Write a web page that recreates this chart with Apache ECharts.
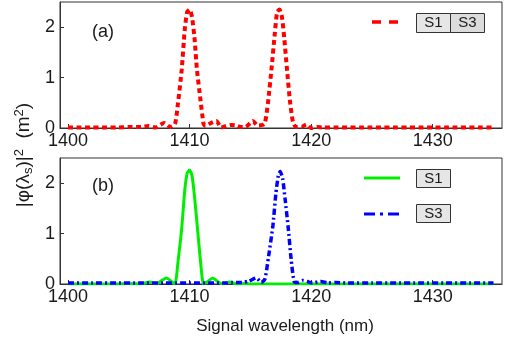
<!DOCTYPE html>
<html><head><meta charset="utf-8">
<script src="https://cdn.jsdelivr.net/npm/echarts@6/dist/echarts.min.js"></script>
<style>html,body{margin:0;padding:0;background:#fff}#c{width:513px;height:337px}</style>
</head><body><div id="c"></div>
<script>
// Panel (a): S1+S3 combined (red dashed)
const wlA = [1400,1401,1402,1403,1404,1405,1406,1406.6,1407.2,1407.9,1408.4,1408.8,1409.05,1409.35,1409.6,1409.8,1410,1410.2,1410.4,1410.6,1410.9,1411.15,1411.3,1411.6,1412.2,1412.6,1413,1413.4,1413.8,1414.2,1414.6,1415.2,1415.6,1416.0,1416.2,1416.45,1416.75,1417,1417.2,1417.4,1417.6,1417.8,1418,1418.25,1418.5,1418.75,1419.2,1419.6,1420,1420.5,1421,1422,1423,1424,1425,1426,1427,1428,1429,1430,1431,1432,1433,1434,1435];
const valA = [0.01,0.01,0.01,0.01,0.01,0.02,0.02,0.04,0.01,0.10,0.02,0.08,0.50,1.15,1.95,2.30,2.35,2.20,1.80,1.17,0.55,0.08,0.04,0.08,0.14,0.01,0.04,0.06,0.05,0.02,0.02,0.14,0.05,0.06,0.10,0.50,1.20,1.85,2.30,2.35,2.20,1.75,1.20,0.55,0.12,0.02,0.02,0.07,0.00,0.02,0.01,0.01,0.01,0.01,0.01,0.01,0.01,0.01,0.01,0.01,0.01,0.01,0.01,0.01,0.01];
// Panel (b): S1 (green solid)
const wlS1 = [1400,1401,1402,1403,1404,1405,1406,1406.7,1407.3,1407.7,1408.1,1408.5,1408.8,1409.05,1409.35,1409.6,1409.8,1410,1410.2,1410.4,1410.65,1410.9,1411.15,1411.5,1411.9,1412.3,1412.7,1413.3,1413.9,1414.5,1415,1416,1418,1420,1425,1430,1435];
const valS1 = [0,0,0,0,0,0.01,0,0.04,0,0.07,0.12,0.05,0,0.45,1.10,1.85,2.20,2.26,2.15,1.75,1.10,0.45,0,0.05,0.12,0.05,0,0.04,0,0.01,0,0,0,0,0,0,0];
// Panel (b): S3 (blue dash-dot)
const wlS3 = [1400,1402,1404,1406,1408,1410,1412,1413,1413.5,1414.3,1414.9,1415.5,1415.9,1416.2,1416.5,1416.85,1417.1,1417.3,1417.45,1417.65,1417.85,1418.1,1418.35,1418.6,1418.9,1419.3,1419.7,1420.1,1420.8,1421.4,1422,1423,1425,1427,1429,1431,1433,1435];
const valS3 = [0.02,0.02,0.02,0.02,0.02,0.02,0.02,0.02,0.03,0.03,0.06,0.12,0.03,0.10,0.55,1.15,1.80,2.15,2.23,2.10,1.70,1.15,0.50,0.05,0.03,0.07,0.05,0.02,0.05,0.02,0.03,0.02,0.02,0.02,0.02,0.02,0.02,0.02];
const xTicks = [1400,1410,1420,1430];
const yTicks = [0,1,2];
const panelLabels = ['(a)','(b)'];
const legendA = ['S1','S3'];

const pairs = (xs, ys) => xs.map((x, i) => [x, ys[i]]);
const font = 'Liberation Sans, Arial, sans-serif';
const chart = echarts.init(document.getElementById('c'), null, {renderer:'canvas'});

function xAx(i){
  return {type:'value', gridIndex:i, min:1399.34, max:1435.7,
    axisLine:{show:true, lineStyle:{color:'#333', width:1}},
    axisTick:{show:true, inside:true, length:4, customValues:xTicks, lineStyle:{color:'#333'}},
    axisLabel:{customValues:xTicks, fontSize:18, color:'#1a1a1a', fontFamily:font, margin:4, formatter:(v)=>String(v)},
    splitLine:{show:false},
    name: i===1 ? 'Signal wavelength (nm)' : '', nameLocation:'middle', nameGap:34,
    nameTextStyle:{fontSize:17, color:'#1a1a1a', fontFamily:font, padding:[0,0,0,8]}};
}
function yAx(i){
  return {type:'value', gridIndex:i, min:0, max:2.5,
    axisLine:{show:true, lineStyle:{color:'#333', width:1}},
    axisTick:{show:true, inside:true, length:4, customValues:yTicks, lineStyle:{color:'#333'}},
    axisLabel:{customValues:yTicks, fontSize:18, color:'#1a1a1a', fontFamily:font, margin:5},
    splitLine:{show:false}};
}
const option = {
  animation:false,
  backgroundColor:'#fff',
  grid:[
    {left:60, right:11, top:2, height:126, show:true, borderColor:'#333', borderWidth:1},
    {left:60, right:11, top:158, height:126, show:true, borderColor:'#333', borderWidth:1}
  ],
  xAxis:[xAx(0), xAx(1)],
  yAxis:[yAx(0), yAx(1)],
  series:[
    {name:'S1 S3', type:'line', xAxisIndex:0, yAxisIndex:0, data:pairs(wlA,valA), showSymbol:false, smooth:0.2,
      lineStyle:{color:'#ff0000', width:4, type:[5,3.5]}},
    {name:'S1', type:'line', xAxisIndex:1, yAxisIndex:1, data:pairs(wlS1,valS1), showSymbol:false, smooth:0.2,
      lineStyle:{color:'#00ee00', width:3}},
    {name:'S3', type:'line', xAxisIndex:1, yAxisIndex:1, data:pairs(wlS3,valS3), showSymbol:false, smooth:0.2,
      lineStyle:{color:'#0000ff', width:3.5, type:[6,3,2,3]}}
  ],
  graphic:[
    {type:'text', left:92, top:23, style:{text:panelLabels[0], font:'18px '+font, fill:'#1a1a1a'}},
    {type:'text', left:92, top:177, style:{text:panelLabels[1], font:'18px '+font, fill:'#1a1a1a'}},
    {type:'text', x:24, y:155, rotation:Math.PI/2, style:{
      text:'|φ(λ{sub|s})|{sup|2}  (m{sup|2})', fill:'#1a1a1a', font:'19px '+font, align:'center', verticalAlign:'middle',
      rich:{sub:{fontSize:13, fontFamily:font, padding:[9,0,0,0], fill:'#1a1a1a'}, sup:{fontSize:13, fontFamily:font, padding:[0,0,9,0], fill:'#1a1a1a'}}}},
    // legend (a)
    {type:'line', shape:{x1:372, y1:22, x2:398, y2:22}, style:{stroke:'#ff0000', lineWidth:3.5, lineDash:[9,8]}},
    {type:'rect', shape:{x:416.5, y:13.5, width:34, height:19}, style:{fill:'#e6e6e6', stroke:'#333', lineWidth:1}},
    {type:'rect', shape:{x:450.5, y:13.5, width:34, height:19}, style:{fill:'#dcdcdc', stroke:'#333', lineWidth:1}},
    {type:'text', x:433.5, y:23, style:{text:legendA[0], font:'15px '+font, fill:'#1a1a1a', align:'center', verticalAlign:'middle'}},
    {type:'text', x:467.5, y:23, style:{text:legendA[1], font:'15px '+font, fill:'#1a1a1a', align:'center', verticalAlign:'middle'}},
    // legend (b)
    {type:'line', shape:{x1:364, y1:178, x2:400, y2:178}, style:{stroke:'#00ee00', lineWidth:3}},
    {type:'rect', shape:{x:416.5, y:169.5, width:34, height:18}, style:{fill:'#e6e6e6', stroke:'#333', lineWidth:1}},
    {type:'text', x:433.5, y:178.5, style:{text:'S1', font:'15px '+font, fill:'#1a1a1a', align:'center', verticalAlign:'middle'}},
    {type:'line', shape:{x1:364, y1:214, x2:400, y2:214}, style:{stroke:'#0000ff', lineWidth:3, lineDash:[11,5,3,5]}},
    {type:'rect', shape:{x:416.5, y:204.5, width:34, height:18}, style:{fill:'#e6e6e6', stroke:'#333', lineWidth:1}},
    {type:'text', x:433.5, y:213.5, style:{text:'S3', font:'15px '+font, fill:'#1a1a1a', align:'center', verticalAlign:'middle'}}
  ]
};
chart.setOption(option);
</script></body></html>
